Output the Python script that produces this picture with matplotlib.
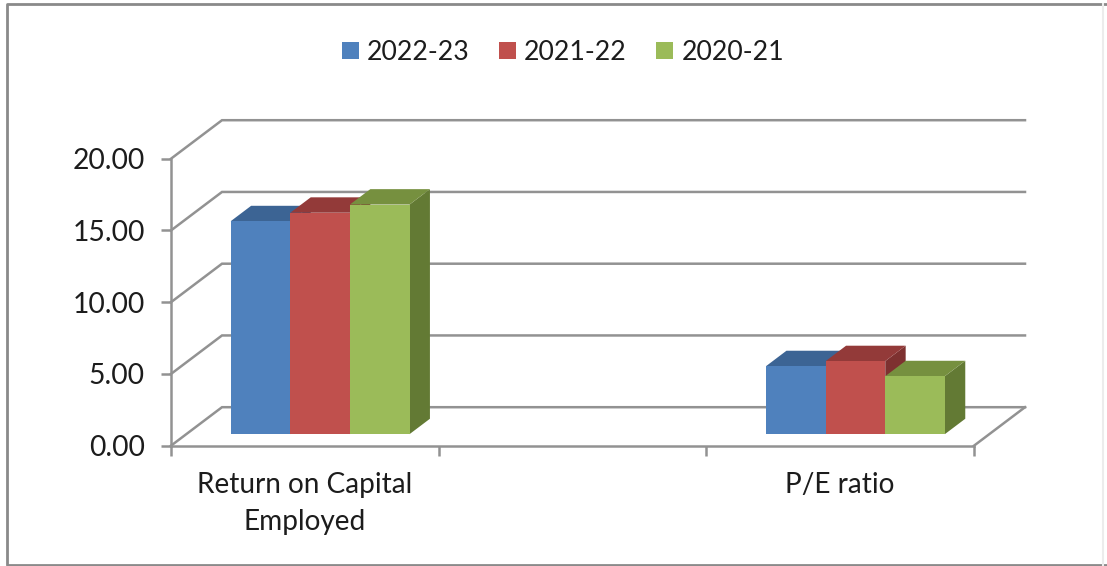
import numpy as np
import matplotlib
matplotlib.use('Agg')
import matplotlib.pyplot as plt
from matplotlib.lines import Line2D
from matplotlib.patches import Polygon, Patch, Rectangle

categories = ['Return on Capital\nEmployed', '', 'P/E ratio']
years = ['2022-23', '2021-22', '2020-21']
val_2022 = [14.84, np.nan, 4.74]
val_2021 = [15.43, np.nan, 5.09]
val_2020 = [16.00, np.nan, 4.04]
y_ticks = [0, 5, 10, 15, 20]

front_cols = ['#4F81BD', '#C0504D', '#9BBB59']
top_cols = ['#3C6494', '#933A39', '#76903F']
side_cols = ['#335580', '#7E3130', '#637A34']
line_col = '#929292'

W, H = 1107, 566
fig = plt.figure(figsize=(W / 100, H / 100), dpi=100)
plt.rcParams['font.family'] = ['Lato', 'DejaVu Sans']
ax = fig.add_axes([171 / W, (H - 445.7) / H, 803 / W, 287 / H])
ax.set_xlim(0, 3)
ax.set_ylim(0, 20)
ax.patch.set_visible(False)

# size of one x unit / y unit in pixels, the 3d offsets are set in pixels
px_x = 803 / 3
px_y = 287 / 20
depth_x = 51 / px_x
depth_y = 38.5 / px_y


def shifted(x, y, d):
    """position at depth d (0 front, 1 back wall)"""
    return x + d * depth_x, y + d * depth_y


# walls
for t in y_ticks:
    x0, y0 = shifted(0, t, 1)
    x1, y1 = shifted(3, t, 1)
    ax.plot([0, x0, x1], [t, y0, y1], color=line_col, lw=1.8, clip_on=False,
            solid_joinstyle='miter', zorder=1)
x1, y1 = shifted(3, 0, 1)
ax.plot([3, x1], [0, y1], color=line_col, lw=1.8, clip_on=False, zorder=1)

# bars
bar_w = 59.6 / px_x
d0, d1 = 0.30, 0.70
for s, vals in enumerate([val_2022, val_2021, val_2020]):
    for c, v in enumerate(vals):
        if np.isnan(v):
            continue
        left = c + 0.5 + (s - 1.5) * bar_w
        x0, y0 = shifted(left, 0, d0)
        x1 = x0 + bar_w
        ytop = y0 + v
        dx = (d1 - d0) * depth_x
        dy = (d1 - d0) * depth_y
        ax.add_patch(Polygon([(x1, y0), (x1 + dx, y0 + dy), (x1 + dx, ytop + dy), (x1, ytop)],
                             fc=side_cols[s], ec='none', clip_on=False, zorder=2 + s))
        ax.add_patch(Polygon([(x0, ytop), (x1, ytop), (x1 + dx, ytop + dy), (x0 + dx, ytop + dy)],
                             fc=top_cols[s], ec='none', clip_on=False, zorder=2 + s))
        ax.add_patch(Rectangle((x0, y0), bar_w, v, fc=front_cols[s], ec='none',
                               clip_on=False, zorder=2 + s))

# axes
for side in ['top', 'right']:
    ax.spines[side].set_visible(False)
for side in ['left', 'bottom']:
    ax.spines[side].set_color(line_col)
    ax.spines[side].set_linewidth(1.8)
ax.set_yticks(y_ticks)
ax.set_yticklabels(['%.2f' % t for t in y_ticks], fontsize=20.3, color='#1c1c1c')
ax.set_xticks([0, 1, 2, 3])
ax.set_xticklabels([])
ax.set_xticks([0.5, 1.5, 2.5], minor=True)
ax.set_xticklabels(categories, minor=True, fontsize=20.2, color='#1c1c1c', linespacing=1.52)
ax.tick_params(axis='both', which='major', color=line_col, width=1.8, length=7, direction='out')
ax.tick_params(axis='y', pad=12)
ax.tick_params(axis='x', which='minor', length=0, pad=19)

handles = [Patch(fc=c, ec='none') for c in front_cols]
fig.legend(handles, years, ncol=3, frameon=False, fontsize=19.2, labelcolor='#1c1c1c',
           loc='center', bbox_to_anchor=(563 / W, 1 - 52.5 / H), handlelength=0.64, handleheight=0.64,
           handletextpad=0.3, columnspacing=1.1, borderpad=0)

# chart frame, the right edge is very faint in the original
frame_x0, frame_x1 = 6.5 / W, 1102.5 / W
frame_top, frame_bot = 1 - 4.2 / H, 1 - 565 / H
fig.add_artist(Line2D([1, frame_x0, frame_x0, 1], [frame_top, frame_top, frame_bot, frame_bot],
                      color='#8a8a8a', lw=2, transform=fig.transFigure))
fig.add_artist(Line2D([frame_x1, frame_x1], [frame_top, frame_bot],
                      color='#ececec', lw=1.5, transform=fig.transFigure))

fig.savefig('out.png', dpi=100)
